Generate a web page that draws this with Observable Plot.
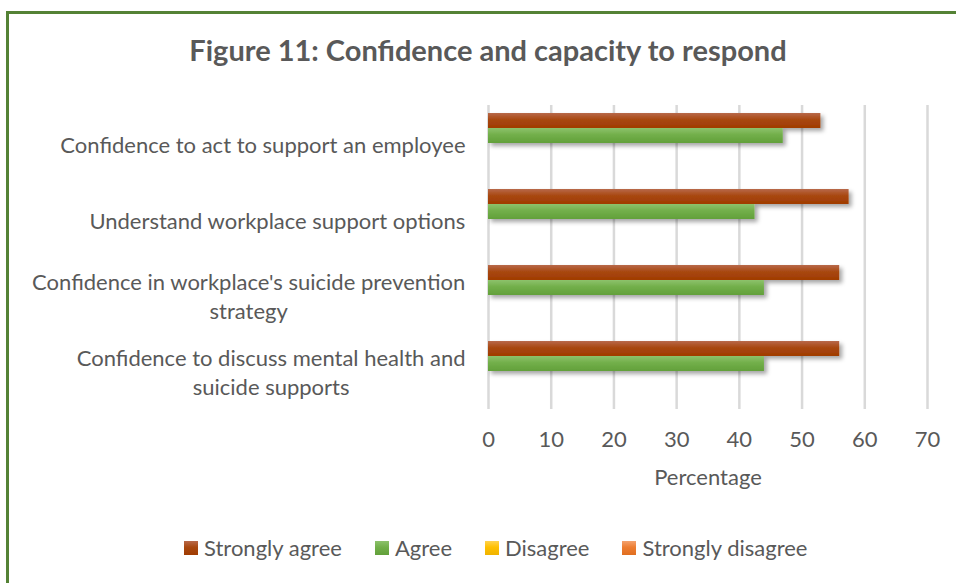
<!DOCTYPE html>
<html>
<head>
<meta charset="utf-8">
<script src="https://cdn.jsdelivr.net/npm/d3@7"></script>
<script src="https://cdn.jsdelivr.net/npm/@observablehq/plot@0.6"></script>
<style>
  body { margin: 0; background: #fff; font-family: Lato, "Noto Sans", sans-serif; width: 956px; height: 583px; overflow: hidden; position: relative; }
  #frame { position: absolute; left: 6px; top: 11px; width: 960px; height: 600px; border-top: 3px solid #548235; border-left: 3px solid #548235; box-sizing: border-box; }
  #title { position: absolute; left: 10px; top: 32px; width: 956px; text-align: center; font-size: 29px; font-weight: bold; color: #595959; line-height: 36px; }
  #chart { position: absolute; left: 0; top: 90px; }
  #legend { position: absolute; left: 184px; top: 535px; display: flex; align-items: center; gap: 33px; font-size: 22px; color: #595959; line-height: 26px; }
  .item { display: flex; align-items: center; gap: 6px; }
  .sw { width: 14px; height: 14px; display: inline-block; }
</style>
</head>
<body>
<div id="frame"></div>
<div id="title">Figure 11: Confidence and capacity to respond</div>
<div id="chart"></div>
<div id="legend"></div>
<script>
const categories = [
  "Confidence to act to support an employee",
  "Understand workplace support options",
  "Confidence in workplace's suicide prevention strategy",
  "Confidence to discuss mental health and suicide supports"
];
const labelLines = [
  ["Confidence to act to support an employee"],
  ["Understand workplace support options"],
  ["Confidence in workplace's suicide prevention", "strategy"],
  ["Confidence to discuss mental health and", "suicide supports"]
];
const series = ["Strongly agree", "Agree", "Disagree", "Strongly disagree"];
const stronglyAgree = [53, 57.5, 56, 56];
const agree = [47, 42.5, 44, 44];
const disagree = [0, 0, 0, 0];
const stronglyDisagree = [0, 0, 0, 0];
const xTicks = [0, 10, 20, 30, 40, 50, 60, 70];
const seriesColors = ["#A5410B", "#70AD47", "#FFC000", "#ED7D31"];
const gradientStops = [
  ["#B8694A", "#A8470F", "#A03C02"],
  ["#8DC26C", "#72AF4A", "#62A03A"],
  ["#FFD34F", "#FFC000", "#EFB300"],
  ["#F4A26E", "#ED7D31", "#E06E20"]
];

const seriesValues = [stronglyAgree, agree, disagree, stronglyDisagree];
const data = [];
categories.forEach((c, i) => series.forEach((s, j) => data.push({category: c, series: s, value: seriesValues[j][i]})));

const fontSize = 22;
const ctx = document.createElement("canvas").getContext("2d");
ctx.font = `${fontSize}px Lato`;
const labelMarks = labelLines.map((lines, i) => {
  const w = Math.max(...lines.map(l => ctx.measureText(l).width));
  return Plot.text([i], {
    fy: d => categories[d],
    text: d => labelLines[d].join("\n"),
    frameAnchor: "left",
    textAnchor: "middle",
    dx: -(23 + w / 2),
    lineHeight: 29 / fontSize,
    fontSize: fontSize,
    fill: "#595959"
  });
});

const plot = Plot.plot({
  width: 956,
  height: 410,
  marginTop: 13,
  marginBottom: 90,
  marginLeft: 488,
  marginRight: 29,
  style: {fontFamily: "Lato, 'Noto Sans', sans-serif", fontSize: "22px", color: "#595959", background: "transparent", overflow: "visible"},
  x: {domain: [0, 70], ticks: xTicks, tickSize: 0, tickPadding: 22, label: null},
  fy: {domain: categories, padding: 0, axis: null},
  y: {domain: series, paddingInner: 0, paddingOuter: 0.48, axis: null},
  color: {domain: series, range: series.map((s, j) => `url(#grad${j})`)},
  marks: [
    Plot.gridX(xTicks, {stroke: "#D9D9D9", strokeOpacity: 1, strokeWidth: 2.5}),
    Plot.barX(data, {x: "value", y: "series", fy: "category", fill: "series", inset: 0}),
    ...labelMarks,
    Plot.text(["Percentage"], {fy: () => categories[categories.length - 1], text: d => d, frameAnchor: "bottom", dy: 75, fontSize: 22, fill: "#595959"})
  ]
});

const svg = d3.select(plot);
const defs = svg.insert("defs", ":first-child");
gradientStops.forEach((stops, j) => {
  const g = defs.append("linearGradient").attr("id", `grad${j}`).attr("x1", 0).attr("y1", 0).attr("x2", 0).attr("y2", 1);
  g.append("stop").attr("offset", "0%").attr("stop-color", stops[0]);
  g.append("stop").attr("offset", "45%").attr("stop-color", stops[1]);
  g.append("stop").attr("offset", "100%").attr("stop-color", stops[2]);
});
const f = defs.append("filter").attr("id", "shadow").attr("x", "-5%").attr("y", "-30%").attr("width", "115%").attr("height", "180%");
f.append("feDropShadow").attr("dx", 3).attr("dy", 3).attr("stdDeviation", 2).attr("flood-color", "#000").attr("flood-opacity", 0.35);
svg.selectAll('g[aria-label="bar"]').attr("filter", "url(#shadow)");

document.getElementById("chart").appendChild(plot);

const legend = d3.select("#legend");
series.forEach((s, j) => {
  const it = legend.append("div").attr("class", "item");
  it.append("span").attr("class", "sw")
    .style("background", `linear-gradient(${gradientStops[j][0]}, ${gradientStops[j][1]} 45%, ${gradientStops[j][2]})`);
  it.append("span").text(s);
});
</script>
</body>
</html>
